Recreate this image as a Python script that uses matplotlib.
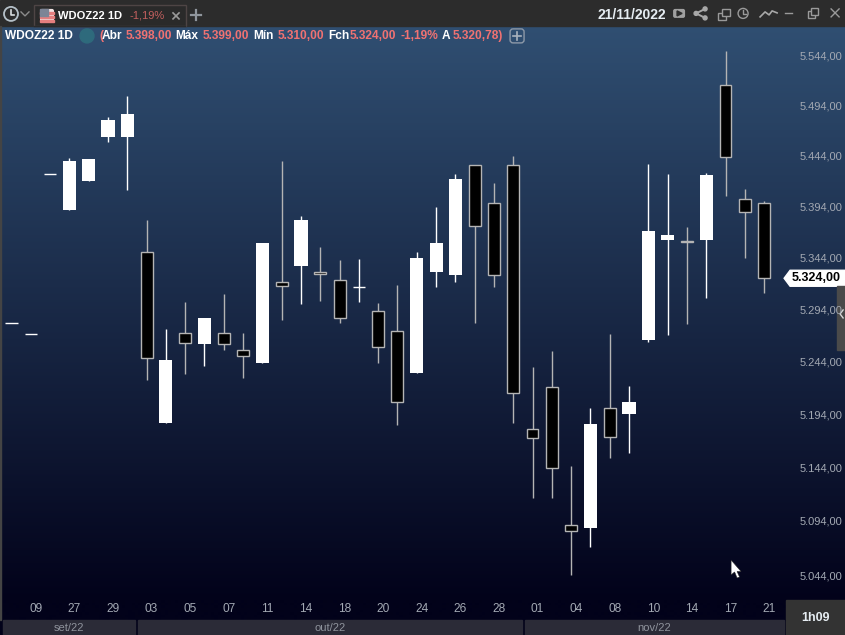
import numpy as np
import matplotlib
matplotlib.use("Agg")
import matplotlib.pyplot as plt
from matplotlib.patches import Rectangle, Polygon, Circle, FancyBboxPatch
from matplotlib.transforms import blended_transform_factory

###Data###
OPENS = [5281, 5270, 5426, 5391, 5419, 5463, 5463, 5350, 5186, 5271, 5261, 5271, 5255, 5243, 5320, 5336, 5330, 5322, 5316, 5292,
         5273, 5233, 5330, 5327, 5435, 5398, 5435, 5180, 5220, 5090, 5087, 5200, 5194, 5265, 5361, 5360, 5361, 5515, 5401, 5398]
HIGHS = [5281, 5270, 5426, 5442, 5441, 5483, 5504, 5381, 5275, 5301, 5286, 5309, 5271, 5358, 5439, 5385, 5354, 5342, 5343, 5300,
         5318, 5350, 5394, 5426, 5435, 5417, 5444, 5239, 5254, 5145, 5200, 5270, 5221, 5436, 5426, 5374, 5427, 5549, 5411, 5399]
LOWS = [5281, 5270, 5426, 5391, 5419, 5458, 5410, 5226, 5186, 5232, 5240, 5255, 5228, 5243, 5284, 5299, 5302, 5281, 5301, 5243,
        5184, 5233, 5316, 5320, 5281, 5316, 5186, 5115, 5115, 5044, 5070, 5153, 5157, 5263, 5269, 5280, 5305, 5404, 5344, 5310]
CLOSES = [5281, 5270, 5426, 5439, 5441, 5480, 5486, 5247, 5245, 5262, 5286, 5261, 5249, 5358, 5317, 5381, 5328, 5286, 5316, 5258,
          5205, 5344, 5358, 5421, 5375, 5327, 5214, 5171, 5143, 5085, 5185, 5172, 5205, 5370, 5366, 5359, 5425, 5443, 5389, 5324]
DAY_LABELS = ["09", "27", "29", "03", "05", "07", "11", "14", "18", "20",
              "24", "26", "28", "01", "04", "08", "10", "14", "17", "21"]
MONTHS = ["set/22", "out/22", "nov/22"]
PRICE_TICKS = [5544, 5494, 5444, 5394, 5344, 5294, 5244, 5194, 5144, 5094, 5044]
LAST_PRICE = 5324

###Constants###
W, H = 845, 635
TOP_BAR = 26
PX_PER_LOG = 5492.0  # log scale, measured from the price labels
SALMON = "#f07272"
GREY_TXT = "#a3a9b3"
WICK_GREY = "#b4b4b4"
FONT = "Liberation Sans"


def fmt_price(v):
    return f"{v:,.2f}".replace(",", "X").replace(".", ",").replace("X", ".")


def y_to_price(y):
    return 5544 * np.exp(-(y - 56) / PX_PER_LOG)


fig = plt.figure(figsize=((W + 0.1) / 100, (H + 0.1) / 100), dpi=100)

###Background and window furniture, drawn in pixels###
bg = fig.add_axes([0, 0, 1, 1])
bg.set_xlim(0, W)
bg.set_ylim(H, 0)
bg.axis("off")

top = np.array([48, 79, 114]) / 255
bot = np.array([2, 2, 26]) / 255
t = np.clip((np.arange(TOP_BAR, H) - TOP_BAR) / (600 - TOP_BAR), 0, 1)[:, None, None]
grad = top[None, None, :] * (1 - t) + bot[None, None, :] * t
bg.imshow(grad, extent=(0, W, H, TOP_BAR), aspect="auto", interpolation="bilinear", zorder=0)
bg.set_xlim(0, W)
bg.set_ylim(H, 0)
bg.add_patch(Rectangle((0, 0), W, TOP_BAR, color="#2c2c2c", zorder=1))
bg.add_patch(Rectangle((0, TOP_BAR), 1, 594, color="#444444", zorder=1))

# tab
bg.add_patch(Rectangle((33.5, 5.5), 152, 21, fc="#2a2a2a", ec="#4e4545", lw=1, zorder=2))
bg.plot([34, 185], [26, 26], color="#2a2a2a", lw=1, zorder=3)
# flag
bg.add_patch(FancyBboxPatch((40, 9), 14, 14, boxstyle="round,pad=0,rounding_size=2", fc="#f3e6e6", ec="none", zorder=3))
for sy in (12, 16, 20):
    bg.add_patch(Rectangle((40, sy), 14, 2, color="#e57f7f", zorder=4))
bg.add_patch(Rectangle((40, 9), 8, 7, color="#7d8596", zorder=5))
bg.text(58, 15.5, "WDOZ22 1D", color="white", fontsize=8, fontweight="bold", family=FONT, va="center", zorder=5)
bg.text(129.5, 15.5, "-1,19%", color="#c4605f", fontsize=8, family=FONT, va="center", zorder=5)
bg.plot([173, 179], [13, 19], color="#9a9a9a", lw=1.2, zorder=5)
bg.plot([173, 179], [19, 13], color="#9a9a9a", lw=1.2, zorder=5)
bg.plot([191, 201], [15.5, 15.5], color="#8f959c", lw=1.6, zorder=5)
bg.plot([196, 196], [10.5, 20.5], color="#8f959c", lw=1.6, zorder=5)
# clock
bg.add_patch(Circle((11, 14), 7, fc="none", ec="#b5c0c8", lw=1.3, zorder=5))
bg.plot([11, 11, 14], [10, 15, 15], color="#d8dde0", lw=1.2, zorder=5)
bg.plot([21, 25, 29], [12, 16, 12], color="#8b8b8b", lw=1, zorder=5)

# right hand side of the title bar
bg.text(632, 15, "21/11/2022", color="#e6edf2", fontsize=10, fontweight="bold", family=FONT, ha="center", va="center", zorder=5)
bg.add_patch(FancyBboxPatch((673, 9), 12, 9, boxstyle="round,pad=0,rounding_size=2", fc="#a0a0a0", ec="none", zorder=5))
bg.add_patch(Polygon([[677, 11], [677, 16], [682, 13.5]], color="#2c2c2c", zorder=6))
bg.plot([705, 696, 705], [9, 13.5, 18], color="#a8a8a8", lw=1.4, zorder=5)
for sx, sy in ((705, 9), (696, 13.5), (705, 18)):
    bg.add_patch(Circle((sx, sy), 2, color="#a8a8a8", zorder=5))
bg.add_patch(Rectangle((717.5, 13.5), 8, 7, fc="none", ec="#9a9a9a", lw=1, zorder=5))
bg.add_patch(Rectangle((721.5, 9.5), 8, 7, fc="#2c2c2c", ec="#9a9a9a", lw=1, zorder=5))
bg.add_patch(Circle((743, 13.5), 5, fc="none", ec="#9a9a9a", lw=1, zorder=5))
bg.plot([743, 743, 746], [10.5, 14, 14], color="#9a9a9a", lw=1, zorder=5)
bg.plot([760, 765, 769, 772, 777], [17, 12, 15, 11, 13], color="#a8a8a8", lw=1.2, zorder=5)
bg.plot([785, 792], [13.5, 13.5], color="#9a9a9a", lw=1, zorder=5)
bg.add_patch(Rectangle((807.5, 11.5), 7, 7, fc="none", ec="#9a9a9a", lw=1, zorder=5))
bg.add_patch(Rectangle((810.5, 8.5), 7, 7, fc="#2c2c2c", ec="#9a9a9a", lw=1, zorder=5))
bg.plot([831, 839], [9, 17], color="#9a9a9a", lw=1, zorder=5)
bg.plot([831, 839], [17, 9], color="#9a9a9a", lw=1, zorder=5)

# legend line over the chart
bg.text(5, 36, "WDOZ22 1D", color="white", fontsize=8.6, fontweight="bold", family=FONT, va="center", zorder=5)
bg.add_patch(Circle((87, 36), 7, color="#2e6a7c", zorder=5))
legend_parts = [(99, "(", SALMON), (102, "Abr", "white"), (125.5, "5.398,00", SALMON), (175.5, "Máx", "white"),
                (202.5, "5.399,00", SALMON), (253, "Mín", "white"), (277.5, "5.310,00", SALMON), (328, "Fch", "white"),
                (349.5, "5.324,00", SALMON), (400, "-1,19%", SALMON), (442, "A", "white"), (453, "5.320,78)", SALMON)]
for px, txt, col in legend_parts:
    bg.text(px, 36, txt, color=col, fontsize=8.6, fontweight="bold", family=FONT, va="center", zorder=5)
bg.add_patch(FancyBboxPatch((510, 29), 14, 14, boxstyle="round,pad=0,rounding_size=3", fc="none", ec="#8d99a8", lw=1, zorder=5))
bg.plot([513, 521], [36, 36], color="#a9b2bd", lw=1.2, zorder=5)
bg.plot([517, 517], [32, 40], color="#a9b2bd", lw=1.2, zorder=5)

# bottom strip
month_spans = [(3, 135), (138, 522), (525, 784)]
for (x0, x1), name in zip(month_spans, MONTHS):
    bg.add_patch(Rectangle((x0, 620), x1 - x0, 15, color="#2b2b37", zorder=2))
    bg.text((x0 + x1) / 2, 628, name, color="#8f939c", fontsize=8, family=FONT, ha="center", va="center", zorder=3)
bg.add_patch(Rectangle((786, 600), 59, 35, color="#333333", zorder=2))
bg.text(815, 618, "1h09", color="#e6edf2", fontsize=9, fontweight="bold", family=FONT, ha="center", va="center", zorder=3)

# side handle and mouse pointer
bg.add_patch(Rectangle((837, 286), 8, 64, color="#4a4a4a", zorder=2))
bg.plot([843, 840, 843], [310, 314, 318], color="#d8d8d8", lw=1, zorder=3)

###Candles###
ax = fig.add_axes([0, 0, 1, 1 - TOP_BAR / H], facecolor="none")
ax.set_yscale("log")
ax.set_ylim(y_to_price(H), y_to_price(TOP_BAR))
ax.set_xlim(-11.5 / 19.295, (W - 11.5) / 19.295)
ax.axis("off")

opens, highs, lows, closes = map(np.array, (OPENS, HIGHS, LOWS, CLOSES))
idx = np.arange(len(opens))
up = closes >= opens
black = ~up
doji = opens == closes
body_w = 12.5 / 19.295

ax.vlines(idx[up], lows[up], highs[up], color="white", lw=1, zorder=2)
ax.vlines(idx[black], lows[black], highs[black], color=WICK_GREY, lw=1, zorder=2)
ax.bar(idx[up & ~doji], (closes - opens)[up & ~doji], bottom=opens[up & ~doji], width=body_w + 0.03,
       color="white", lw=0, zorder=3)
ax.bar(idx[black], (opens - closes)[black], bottom=closes[black], width=body_w - 0.03,
       facecolor="black", edgecolor=WICK_GREY, lw=1, zorder=3)
ax.hlines(opens[doji], idx[doji] - body_w / 2, idx[doji] + body_w / 2, color="white", lw=1, zorder=3)

###Labels on the axes###
trans_y = blended_transform_factory(bg.transData, ax.transData)
for tick in PRICE_TICKS:
    ax.annotate(fmt_price(tick), (842, tick), xycoords=trans_y, xytext=(0, -0.6), textcoords="offset points",
                color=GREY_TXT, fontsize=8, family=FONT, ha="right", va="center", zorder=4)
trans_x = blended_transform_factory(ax.transData, bg.transData)
for i, lab in zip(idx[1::2], DAY_LABELS):
    ax.annotate(lab, (i, 609), xycoords=trans_x, xytext=(3.6, 0), textcoords="offset points", color=GREY_TXT,
                fontsize=8.6, family=FONT, ha="center", va="center", zorder=4)

y_last = ax.transData.transform((0, LAST_PRICE))[1]
y_px = H - y_last
bg.add_patch(Polygon([[784, y_px], [790, y_px - 8], [845, y_px - 8], [845, y_px + 8], [790, y_px + 8]],
                     color="white", zorder=1.5))
ax.text(816, LAST_PRICE, fmt_price(LAST_PRICE), color="black", fontsize=9, fontweight="bold", family=FONT,
        ha="center", va="center", transform=trans_y, zorder=6)

ax.add_patch(Polygon([[731, 560], [731, 575], [734.5, 572], [737, 578], [739.5, 577], [737, 571.5], [741, 571.5]],
                     facecolor="white", edgecolor="#222222", lw=0.4, transform=bg.transData, zorder=6))

fig.savefig("out.png", dpi=100)
